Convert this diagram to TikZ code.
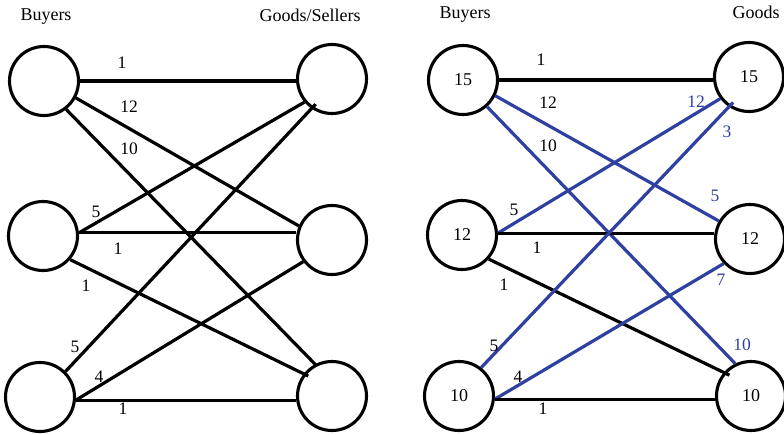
\documentclass[tikz,border=0pt]{standalone}
\usepackage{fontspec}
\setmainfont{Liberation Serif}
\definecolor{flowblue}{RGB}{46,64,160}
\begin{document}
\begin{tikzpicture}[x=1pt,y=-1pt,
  vertex/.style={circle,draw,line width=3.1pt,minimum size=69pt,inner sep=0pt,
                 font=\fontsize{18}{18}\selectfont},
  edge/.style={line width=3.2pt},
  flow/.style={edge,draw=flowblue},
  wt/.style={font=\fontsize{17.5}{18}\selectfont,inner sep=0pt},
  fl/.style={wt,text=flowblue},
  head/.style={font=\fontsize{18}{18}\selectfont,inner sep=0pt}]
\useasboundingbox (0,0) rectangle (784,435);

% ---------- left graph: buyers and goods/sellers ----------
\node[head] (lbh) at (46,17) {Buyers};
\node[head] (lsh) at (310,15) {Goods/Sellers};

\node[vertex] (b1) at (44,81) {};
\node[vertex] (b2) at (43,236) {};
\node[vertex] (b3) at (40,397) {};
\node[vertex] (s1) at (332,79) {};
\node[vertex] (s2) at (332,240) {};
\node[vertex] (s3) at (332,396) {};

\draw[edge] (b1.east) -- (b1.east -| s1.west);
\draw[edge] (b1.-28) -- (s2.157);
\draw[edge] (b1.-52) -- ([shift={(117:34pt)}]s3.center);
\draw[edge] (b2.5) -- (s1.220);
\draw[edge] (b2.5) -- (b2.5 -| s2.west);
\draw[edge] (b2.-41) -- ([shift={(140:31pt)}]s3.center);
\draw[edge] (b3.45) -- ([shift={(237:30pt)}]s1.center);
\draw[edge] (b3.-5) -- (s2.217);
\draw[edge] (b3.-5) -- (b3.-5 -| s3.west);

\node[wt] (w11) at (122,63) {1};
\node[wt] (w12) at (129,107) {12};
\node[wt] (w13) at (129,149) {10};
\node[wt] (w21) at (96,212) {5};
\node[wt] (w22) at (118,249) {1};
\node[wt] (w23) at (86,286) {1};
\node[wt] (w31) at (75,347) {5};
\node[wt] (w32) at (99,377) {4};
\node[wt] (w33) at (123,409) {1};

% ---------- right graph: prices and flows ----------
\node[head] (rbh) at (465,15) {Buyers};
\node[head] (rsh) at (756,12) {Goods};

\node[vertex] (p1) at (463,80) {15};
\node[vertex] (p2) at (462,235) {12};
\node[vertex] (p3) at (459,396) {10};
\node[vertex] (q1) at (749,77) {15};
\node[vertex] (q2) at (750,239) {12};
\node[vertex] (q3) at (751,396) {10};

\draw[edge] (p1.east) -- (p1.east -| q1.west);
\draw[flow] (p1.-26) -- (q2.150);
\draw[flow] (p1.-48) -- (q3.116);
\draw[flow] (p2.3) -- (q1.217);
\draw[edge] (p2.3) -- (p2.3 -| q2.west);
\draw[edge] (p2.-42) -- ([shift={(136:30pt)}]q3.center);
\draw[flow] (p3.52) -- ([shift={(238:30pt)}]q1.center);
\draw[flow] (p3.-5) -- (q2.223);
\draw[edge] (p3.-5) -- (p3.-5 -| q3.west);

\node[wt] (v11) at (541,60) {1};
\node[wt] (v12) at (548,103) {12};
\node[wt] (v13) at (548,146) {10};
\node[wt] (v21) at (514,210) {5};
\node[wt] (v22) at (537,248) {1};
\node[wt] (v23) at (504,285) {1};
\node[wt] (v31) at (494,346) {5};
\node[wt] (v32) at (518,377) {4};
\node[wt] (v33) at (543,409) {1};

\node[fl] (f21) at (696,102) {12};
\node[fl] (f31) at (727,132) {3};
\node[fl] (f12) at (715,196) {5};
\node[fl] (f32) at (721,280) {7};
\node[fl] (f13) at (742,345) {10};
\end{tikzpicture}
\end{document}
